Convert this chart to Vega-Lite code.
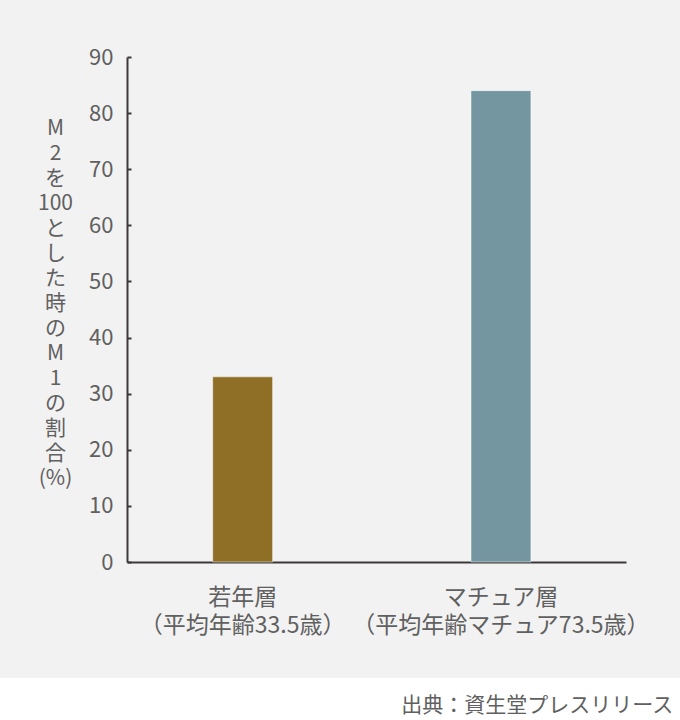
{
  "$schema": "https://vega.github.io/schema/vega-lite/v6.json",
  "background": "#f2f2f2",
  "padding": {"left": 0, "right": 0, "top": 46, "bottom": 0},
  "spacing": 41,
  "config": {"font": "Noto Sans CJK JP", "view": {"stroke": null}},
  "vconcat": [
    {
      "width": 680,
      "height": 505,
      "data": {"values": [
        {"label": "若年層|（平均年齢33.5歳）", "value": 33},
        {"label": "マチュア層|（平均年齢マチュア73.5歳）", "value": 84}
      ]},
      "mark": {"type": "bar", "stroke": "#ffffff", "strokeOpacity": 0.5, "strokeWidth": 1},
      "encoding": {
        "x": {
          "field": "label", "type": "nominal", "sort": null,
          "scale": {"range": [127, 626], "paddingInner": 0.768, "paddingOuter": 0.35, "align": 0.474},
          "axis": {
            "title": null, "labelAngle": 0, "ticks": false,
            "domainColor": "#3d3939", "domainWidth": 2,
            "labelExpr": "split(datum.label, '|')",
            "labelFontSize": 23, "labelColor": "#606060", "labelLimit": 0,
            "labelLineHeight": 28, "labelPadding": 24, "labelBaseline": "top"
          }
        },
        "y": {
          "field": "value", "type": "quantitative",
          "scale": {"domain": [0, 90]},
          "axis": {
            "offset": -127,
            "values": [0, 10, 20, 30, 40, 50, 60, 70, 80, 90],
            "grid": false,
            "domainColor": "#3d3939", "domainWidth": 2,
            "tickColor": "#3d3939", "tickSize": -4, "tickWidth": 2,
            "labelFontSize": 22, "labelColor": "#606060", "labelPadding": 18,
            "title": ["M", "2", "を", "100", "と", "し", "た", "時", "の", "M", "1", "の", "割", "合", "(%)"],
            "titleFontSize": 21, "titleColor": "#606060", "titleFontWeight": "normal",
            "titleAngle": 0, "titleAlign": "center", "titleBaseline": "top",
            "titleLineHeight": 25, "titleX": -72, "titleY": 60
          }
        },
        "color": {
          "field": "label", "type": "nominal",
          "scale": {"domain": ["若年層|（平均年齢33.5歳）", "マチュア層|（平均年齢マチュア73.5歳）"], "range": ["#8f6f26", "#7396a0"]},
          "legend": null
        }
      }
    },
    {
      "width": 680,
      "height": 40,
      "view": {"fill": "#ffffff", "stroke": null},
      "data": {"values": [{"source": "出典：資生堂プレスリリース"}]},
      "mark": {"type": "text", "align": "right", "baseline": "middle", "fontSize": 21, "color": "#606060"},
      "encoding": {
        "text": {"field": "source"},
        "x": {"datum": 0.99, "type": "quantitative", "scale": {"domain": [0, 1]}, "axis": null},
        "y": {"datum": 0.3, "type": "quantitative", "scale": {"domain": [0, 1]}, "axis": null}
      }
    }
  ]
}
